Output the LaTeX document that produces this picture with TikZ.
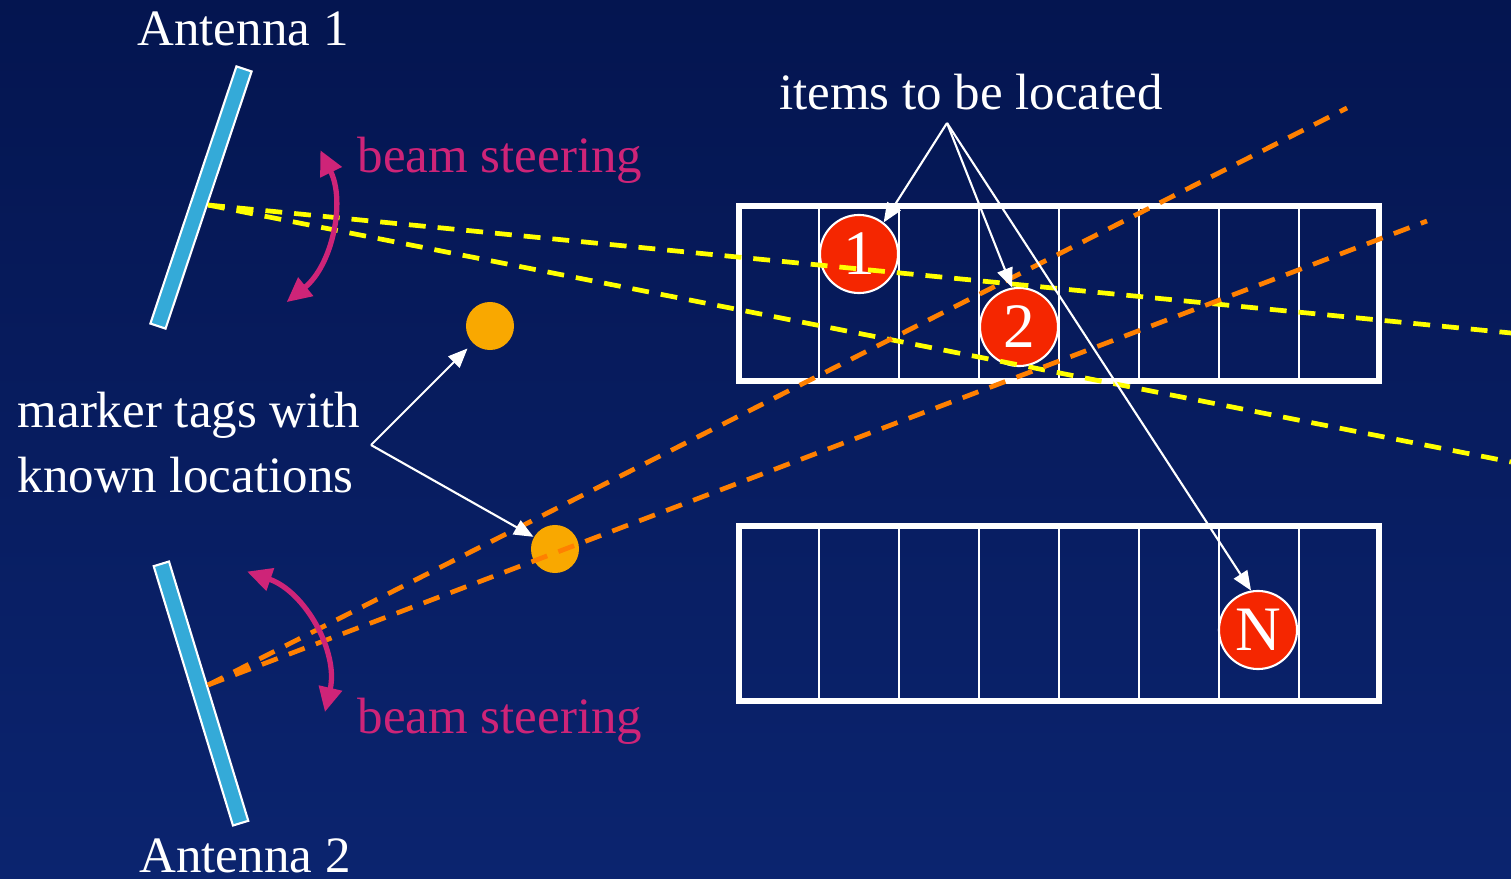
\documentclass[tikz,border=0pt]{standalone}
\usepackage{fontspec}
\setmainfont{Liberation Serif}
\usetikzlibrary{arrows.meta,calc}
\definecolor{bgtop}{RGB}{4,21,80}
\definecolor{bgbot}{RGB}{11,36,111}
\definecolor{antblue}{RGB}{52,170,216}
\definecolor{magentabeam}{RGB}{206,36,120}
\definecolor{itemred}{RGB}{245,38,0}
\definecolor{tagorange}{RGB}{249,168,0}
\definecolor{beamyellow}{RGB}{255,255,0}
\definecolor{beamorange}{RGB}{255,128,0}
\begin{document}
\begin{tikzpicture}[x=0.01cm,y=0.01cm,
  lbl/.style={text=white,font=\fontsize{14.5}{18.5}\selectfont,inner sep=0},
  steerlbl/.style={text=magentabeam,font=\fontsize{14.5}{18.5}\selectfont,inner sep=0},
  antenna/.style={rectangle,fill=antblue,draw=white,line width=0.6pt,minimum width=2.71cm,minimum height=0.16cm,inner sep=0},
  itemdot/.style={circle,fill=itemred,draw=white,line width=0.6pt,minimum size=0.78cm,inner sep=0,text=white,font=\fontsize{18}{20}\selectfont},
  tagdot/.style={circle,fill=tagorange,minimum size=0.48cm,inner sep=0},
  boxframe/.style={rectangle,draw=white,line width=1.7pt,minimum width=6.4cm,minimum height=1.75cm,inner sep=0,outer sep=0},
  divider/.style={draw=white,line width=0.7pt},
  ybeam/.style={draw=beamyellow,line width=1.35pt,dash pattern=on 4.8pt off 3.4pt},
  obeam/.style={draw=beamorange,line width=1.35pt,dash pattern=on 4.8pt off 3.4pt},
  pointer/.style={draw=white,line width=0.6pt,-{Triangle[length=5.5pt,width=4.5pt]}},
  steerarrow/.style={draw=magentabeam,line width=1.5pt,{Triangle[length=7pt,width=6.5pt]}-{Triangle[length=7pt,width=6.5pt]}}]
\shade[top color=bgtop,bottom color=bgbot] (0,0) rectangle (1511,-879);
\useasboundingbox (0,0) rectangle (1511,-879);

% boxes
\node[boxframe] (box1) at (1059,-293.5) {};
\node[boxframe] (box2) at (1059,-613.5) {};
\foreach \k in {1,...,7} {
  \draw[divider] ($(box1.north west)+(80*\k,0)$) -- ($(box1.south west)+(80*\k,0)$);
  \draw[divider] ($(box2.north west)+(80*\k,0)$) -- ($(box2.south west)+(80*\k,0)$);
}

% antennas
\node[antenna,rotate=71.5] (ant1) at (201,-197.5) {};
\node[antenna,rotate=-73] (ant2) at (201,-693.5) {};
\coordinate (feed1) at (208,-205);
\coordinate (feed2) at (208,-685);

% items and tags
\node[itemdot] (c1) at (859,-254) {1};
\node[itemdot] (c2) at (1019,-327) {2};
\node[itemdot] (cN) at (1258,-630) {N};
\node[tagdot] (t1) at (490,-326) {};
\node[tagdot] (t2) at (555,-549) {};

% beams
\coordinate (y1end) at (1511,-333);
\coordinate (y2end) at (1511,-462);
\coordinate (o1end) at (1347,-108);
\coordinate (o2end) at (1427,-221);
\draw[ybeam] (feed1) -- (y1end);
\draw[ybeam] (feed1) -- (y2end);
\draw[obeam] (feed2) -- (o1end);
\draw[obeam] (feed2) -- (o2end);

% beam steering arcs
\draw[steerarrow] (feed1) ++(26:125) arc[start angle=26,end angle=-51,radius=125];
\draw[steerarrow] (feed2) ++(71:120) arc[start angle=71,end angle=-13,radius=120];

% labels
\node[lbl,anchor=base] (a1lbl) at (243,-46) {Antenna 1};
\node[lbl,anchor=base] (a2lbl) at (245,-873) {Antenna 2};
\node[steerlbl,anchor=base] (bs1) at (500,-173) {beam steering};
\node[steerlbl,anchor=base] (bs2) at (500,-733) {beam steering};
\node[lbl,anchor=base] (items) at (971,-110) {items to be located};
\node[lbl,anchor=west,align=left] (markers) at (17,-443) {marker tags with\\known locations};

% pointers
\coordinate (fork) at (947,-123);
\coordinate (mfork) at (371,-445);
\draw[pointer] (fork) -- (c1.52);
\draw[pointer] (fork) -- (c2.100);
\draw[pointer] (fork) -- (cN.100);
\draw[pointer,shorten >=2pt] (mfork) -- (t1);
\draw[pointer] (mfork) -- (t2);
\end{tikzpicture}
\end{document}
